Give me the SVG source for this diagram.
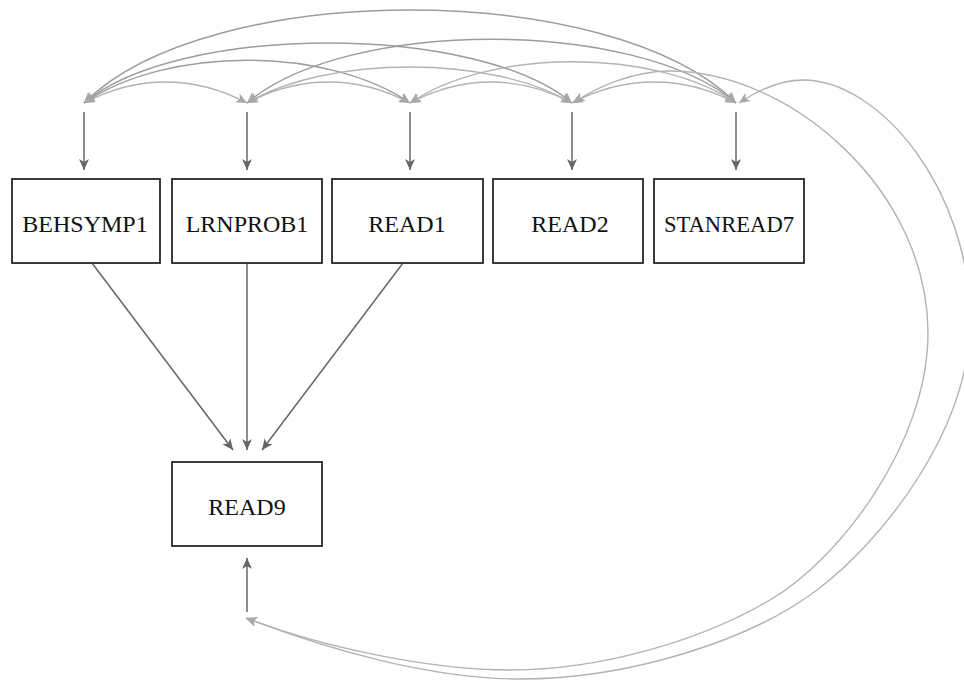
<svg xmlns="http://www.w3.org/2000/svg" width="964" height="682" viewBox="0 0 964 682">
<defs>
<marker id="ad" markerUnits="userSpaceOnUse" markerWidth="12" markerHeight="12" viewBox="0 0 12 10" refX="11" refY="5" orient="auto"><path d="M0,0 L11,5 L0,10 L3,5 z" fill="#666"/></marker>
<marker id="ag" markerUnits="userSpaceOnUse" markerWidth="12" markerHeight="12" viewBox="0 0 12 10" refX="11" refY="5" orient="auto-start-reverse"><path d="M0,0 L11,5 L0,10 L3,5 z" fill="#a8a8a8"/></marker>
<style>
.box{fill:#fff;stroke:#262626;stroke-width:1.8}
.lbl{font-family:"Liberation Serif","Times New Roman",serif;font-size:24px;fill:#111;text-anchor:middle}
.reg{fill:none;stroke:#666;stroke-width:1.5;marker-end:url(#ad)}
.cov{fill:none;stroke:#b3b3b3;stroke-width:1.4;marker-start:url(#ag);marker-end:url(#ag)}
.covd{stroke:#9c9c9c}
</style>
</defs>
<rect width="964" height="682" fill="#fff"/>
<g id="connectors">
<path class="reg" d="M84,112 L84,170"/>
<path class="reg" d="M247,112 L247,170"/>
<path class="reg" d="M410,112 L410,170"/>
<path class="reg" d="M572,112 L572,170"/>
<path class="reg" d="M736,112 L736,170"/>
<path class="reg" d="M92,263 L233,450"/>
<path class="reg" d="M247,263 L247,450"/>
<path class="reg" d="M403,263 L262,450"/>
<path class="reg" d="M247,612 L247,558"/>
<path class="cov" d="M84,103 C137,75 194,75 247,103"/>
<path class="cov covd" d="M84,103 C168,46 326,46 410,103"/>
<path class="cov covd" d="M84,103 C179,23 477,23 572,103"/>
<path class="cov covd" d="M84,103 C208,-21 612,-21 736,103"/>
<path class="cov" d="M247,103 C300,75 357,75 410,103"/>
<path class="cov" d="M247,103 C327,55 492,55 572,103"/>
<path class="cov covd" d="M247,103 C347,18 636,18 736,103"/>
<path class="cov" d="M410,103 C463,75 519,75 572,103"/>
<path class="cov" d="M410,103 C490,48 656,48 736,103"/>
<path class="cov" d="M572,103 C625,75 683,75 736,103"/>
<path class="cov" d="M574,103 C597,86 635,71 670,71 C790,71 928,190 928,333 C928,443 840,559 770,600 C700,641 600,670 510,670 C430,670 321,647 246,618"/>
<path class="cov" d="M739,103 C760,89 781,80 803,80 C880,80 970,190 970,320 C970,430 883,540 817,590 C751,640 630,679 520,679 C430,679 326,649 246,618"/>
</g>
<g id="BEHSYMP1"><rect class="box" x="12" y="179" width="148" height="84"/><text class="lbl" x="85" y="232">BEHSYMP1</text></g>
<g id="LRNPROB1"><rect class="box" x="172" y="179" width="150" height="84"/><text class="lbl" x="247" y="232">LRNPROB1</text></g>
<g id="READ1"><rect class="box" x="332" y="179" width="151" height="84"/><text class="lbl" x="407" y="232">READ1</text></g>
<g id="READ2"><rect class="box" x="493" y="179" width="150" height="84"/><text class="lbl" x="570" y="232">READ2</text></g>
<g id="STANREAD7"><rect class="box" x="654" y="179" width="150" height="84"/><text class="lbl" x="729" y="232" textLength="130" lengthAdjust="spacingAndGlyphs">STANREAD7</text></g>
<g id="READ9"><rect class="box" x="172" y="462" width="150" height="84"/><text class="lbl" x="247" y="515">READ9</text></g>
</svg>
